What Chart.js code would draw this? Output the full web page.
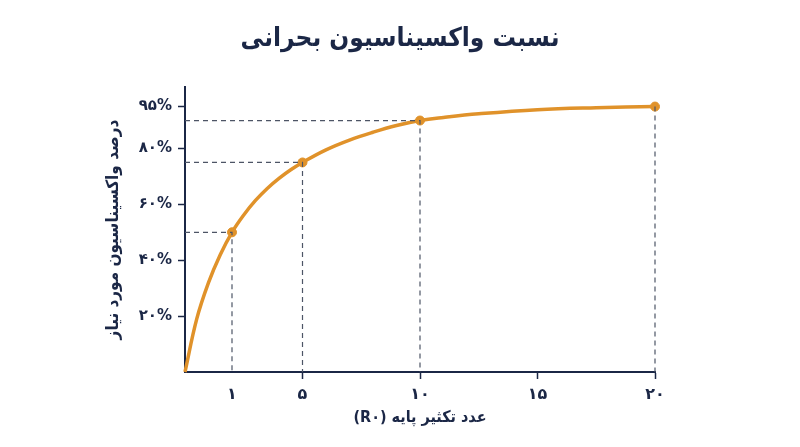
<!DOCTYPE html>
<html lang="fa">
<head>
    <meta charset="UTF-8">
    <title>نسبت واکسیناسیون بحرانی</title>
    <script src="https://cdn.jsdelivr.net/npm/chart.js"></script>
    <style>
        body { margin: 0; background: #fff; }
        #chart { display: block; }
    </style>
</head>
<body>
    <canvas id="chart" dir="rtl" width="800" height="447"></canvas>

    <script>
        // values (x = position on R0 axis, y = percent)
        const curveX = [0, 0.5, 1, 1.5, 2, 2.5, 3, 3.5, 4, 4.5, 5, 6, 7, 8, 9, 10, 11, 12.5, 15, 17.5, 20];
        const curveY = [0, 19, 32, 42, 50, 56.2, 61.4, 65.7, 69.3, 72.4, 75, 79.5, 83, 85.8, 88.2, 90, 91.1, 92.4, 93.9, 94.6, 95];

        // highlighted points with dashed guides
        const markerX = [2, 5, 10, 20];
        const markerY = [50, 75, 90, 95];
        const markerHasHGuide = [true, true, true, false];

        const xTickValues = [2, 5, 10, 15, 20];
        const xTickLabels = ['۱', '۵', '۱۰', '۱۵', '۲۰'];
        const yTickValues = [20, 40, 60, 80, 95];
        const yTickLabels = ['۲۰%', '۴۰%', '۶۰%', '۸۰%', '۹۵%'];

        const navy = '#1b2746';
        const orange = '#e0922a';
        const guideColor = '#4d5566';
        const fontFamily = "'DejaVu Sans', 'Noto Sans', sans-serif";
        const titleFamily = "'DejaVu Sans Condensed', 'DejaVu Sans', sans-serif";

        const guideSets = [];
        markerX.forEach((x, i) => {
            const pts = markerHasHGuide[i]
                ? [{ x: 0, y: markerY[i] }, { x: x, y: markerY[i] }, { x: x, y: 0 }]
                : [{ x: x, y: markerY[i] }, { x: x, y: 0 }];
            guideSets.push({
                data: pts,
                borderColor: guideColor,
                borderWidth: 1.2,
                borderDash: [5, 4],
                pointRadius: 0,
                tension: 0,
                clip: false
            });
        });

        const ctx = document.getElementById('chart').getContext('2d');
        new Chart(ctx, {
            type: 'line',
            data: {
                datasets: [
                    ...guideSets,
                    {
                        data: curveX.map((x, i) => ({ x: x, y: curveY[i] })),
                        borderColor: orange,
                        borderWidth: 3.5,
                        pointRadius: 0,
                        tension: 0.4,
                        capBezierPoints: false,
                        clip: false
                    },
                    {
                        data: markerX.map((x, i) => ({ x: x, y: markerY[i] })),
                        showLine: false,
                        pointRadius: 4.5,
                        pointBackgroundColor: orange,
                        pointBorderColor: orange,
                        clip: false
                    }
                ]
            },
            options: {
                responsive: false,
                animation: false,
                layout: { padding: 0 },
                plugins: {
                    legend: { display: false },
                    tooltip: { enabled: false },
                    title: {
                        display: true,
                        text: 'نسبت واکسیناسیون بحرانی',
                        color: navy,
                        font: { family: titleFamily, size: 26, weight: 'bold' },
                        padding: { top: 24, bottom: 31.8 }
                    }
                },
                scales: {
                    x: {
                        type: 'linear',
                        min: 0,
                        max: 20,
                        afterBuildTicks: s => { s.ticks = xTickValues.map(v => ({ value: v })); },
                        afterFit: s => { s.height = 75; },
                        ticks: {
                            callback: (v, i) => xTickLabels[i],
                            color: navy,
                            padding: 6,
                            maxRotation: 0,
                            font: { family: fontFamily, size: 16, weight: 'bold' }
                        },
                        grid: {
                            drawOnChartArea: false,
                            tickLength: 7,
                            tickWidth: 1.5,
                            tickColor: c => c.index === 0 ? 'rgba(0,0,0,0)' : navy
                        },
                        border: { color: navy, width: 2 },
                        title: {
                            display: true,
                            text: 'عدد تکثیر پایه (R۰)',
                            color: navy,
                            font: { family: titleFamily, size: 16, weight: 'bold' },
                            padding: { top: 0, bottom: 20 }
                        }
                    },
                    y: {
                        min: 0,
                        max: 102,
                        afterBuildTicks: s => { s.ticks = yTickValues.map(v => ({ value: v })); },
                        afterFit: s => { s.width = 185; },
                        ticks: {
                            callback: (v, i) => yTickLabels[i],
                            color: navy,
                            padding: 6,
                            font: { family: fontFamily, size: 15, weight: 'bold' }
                        },
                        grid: {
                            drawOnChartArea: false,
                            tickLength: 7,
                            tickWidth: 1.5,
                            tickColor: navy
                        },
                        border: { color: navy, width: 2 },
                        title: {
                            display: true,
                            text: 'درصد واکسیناسیون مورد نیاز',
                            color: navy,
                            font: { family: titleFamily, size: 17, weight: 'bold' },
                            padding: { top: 103, bottom: 0 }
                        }
                    },
                    // empty right-hand axis that only reserves the margin
                    yRight: {
                        position: 'right',
                        afterFit: s => { s.width = 145; },
                        ticks: { display: false },
                        grid: { display: false },
                        border: { display: false }
                    }
                }
            }
        });
    </script>
</body>
</html>
